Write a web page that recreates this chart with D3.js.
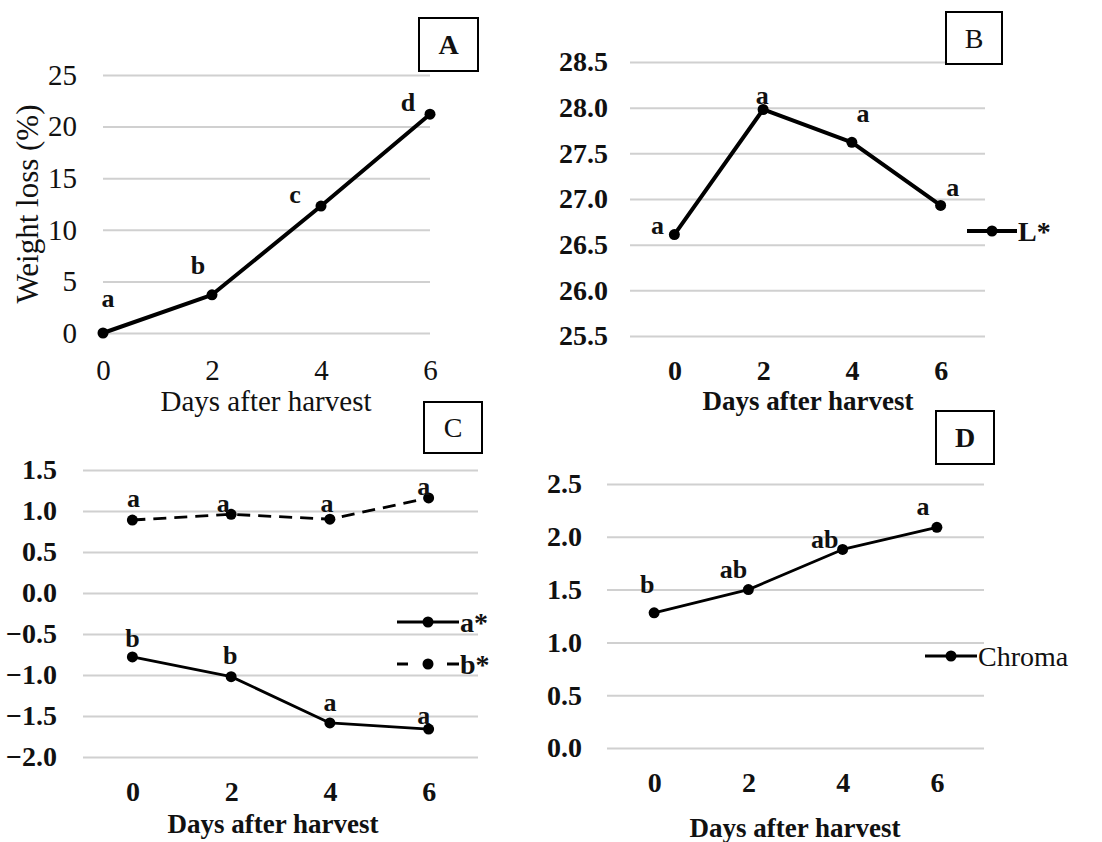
<!DOCTYPE html>
<html><head><meta charset="utf-8">
<script src="https://cdn.jsdelivr.net/npm/d3@7"></script>
<style>body{margin:0;background:#fff}svg{display:block}text{font-family:"Liberation Serif","Times New Roman",serif;fill:#111}</style>
</head><body><svg id="c" width="1102" height="842"></svg>
<script>
const days = ["0","2","4","6"];
const weightLoss = [0, 3.7, 12.3, 21.2];
const weightLetters = ["a","b","c","d"];
const lStar = [26.61, 27.98, 27.62, 26.93];
const lLetters = ["a","a","a","a"];
const aStar = [-0.78, -1.02, -1.585, -1.66];
const aLetters = ["b","b","a","a"];
const bStar = [0.89, 0.96, 0.90, 1.16];
const bLetters = ["a","a","a","a"];
const chroma = [1.28, 1.50, 1.88, 2.09];
const chromaLetters = ["b","ab","ab","a"];
const ticksA = [0,5,10,15,20,25];
const ticksB = [25.5,26.0,26.5,27.0,27.5,28.0,28.5];
const ticksC = [-2.0,-1.5,-1.0,-0.5,0.0,0.5,1.0,1.5];
const ticksD = [0.0,0.5,1.0,1.5,2.0,2.5];

const svg = d3.select("#c");
const FF = '"Liberation Serif","Times New Roman",serif';

function panel(o){
  const g = svg.append("g");
  const x = d3.scalePoint().domain(days).range([o.x0, o.x1]).padding(o.pad);
  const y = d3.scaleLinear().domain(o.dom).range([o.yb, o.yt]);
  const yAxis = d3.axisLeft(y).tickValues(o.ticks).tickSize(-(o.x1 - o.x0)).tickPadding(o.tickPad)
      .tickFormat(o.fmt);
  const ga = g.append("g").attr("transform", `translate(${o.x0},0)`).call(yAxis);
  ga.attr("font-family", FF);
  ga.select(".domain").remove();
  ga.selectAll("line").attr("stroke", "#d0d0d0").attr("stroke-width", 2);
  ga.selectAll("text").style("font-size", o.fs + "px").style("font-weight", o.fw)
    .style("font-family", FF).attr("fill", "#111");
  const xAxis = d3.axisBottom(x).tickSize(0).tickPadding(0);
  const gx = g.append("g").attr("transform", `translate(0,${o.xTickY})`).call(xAxis);
  gx.attr("font-family", FF);
  gx.select(".domain").remove();
  gx.selectAll("text").style("font-size", o.fs + "px").style("font-weight", o.fw)
    .style("font-family", FF).attr("fill", "#111").attr("dy", "0.35em");
  g.append("text").attr("x", o.titleX).attr("y", o.titleY).attr("text-anchor", "middle")
    .attr("dy", "0.35em").style("font-size", o.tfs + "px").style("font-weight", o.fw).text("Days after harvest");
  o.series.forEach(s => {
    const pts = s.values.map((v, i) => [x(days[i]), y(v)]);
    g.append("path").attr("d", d3.line()(pts)).attr("fill", "none").attr("stroke", "#000")
      .attr("stroke-width", o.lw).attr("stroke-dasharray", s.dash || null).attr("stroke-linejoin", "round");
    g.selectAll(null).data(pts).enter().append("circle").attr("cx", d => d[0]).attr("cy", d => d[1])
      .attr("r", o.r).attr("fill", "#000");
    s.letters.forEach((t, i) => {
      g.append("text").attr("x", x(days[i]) + s.lab[i][0]).attr("y", y(s.values[i]) + s.lab[i][1])
        .attr("text-anchor", "middle").attr("dy", "0.35em").style("font-size", "26px")
        .style("font-weight", "bold").text(t);
    });
    if (s.leg) {
      const L = s.leg;
      g.append("line").attr("x1", L[0]).attr("x2", L[1]).attr("y1", L[2]).attr("y2", L[2])
        .attr("stroke", "#000").attr("stroke-width", o.lw).attr("stroke-dasharray", s.legDash || null);
      g.append("circle").attr("cx", (L[0] + L[1]) / 2).attr("cy", L[2]).attr("r", o.r).attr("fill", "#000");
      g.append("text").attr("x", L[1] + 1).attr("y", L[2]).attr("dy", "0.35em")
        .style("font-size", o.legFs + "px").style("font-weight", o.legFw).text(s.name);
    }
  });
  const b = o.box;
  g.append("rect").attr("x", b[0]).attr("y", b[1]).attr("width", b[2] - b[0]).attr("height", b[3] - b[1])
    .attr("fill", "#fff").attr("stroke", "#000").attr("stroke-width", 2);
  g.append("text").attr("x", (b[0] + b[2]) / 2).attr("y", (b[1] + b[3]) / 2).attr("dy", "0.35em")
    .attr("text-anchor", "middle").style("font-size", "28px").style("font-weight", o.boxFw).text(o.letter);
  return {g, x, y};
}

const A = panel({x0:103, x1:430, pad:0, dom:[0,25], yb:333, yt:75, ticks:ticksA, fmt:d3.format("d"),
  tickPad:26, fs:29, tfs:29, fw:"normal", xTickY:370, titleX:266, titleY:401, lw:4, r:5.5,
  series:[{values:weightLoss, letters:weightLetters, name:"", lab:[[5,-35],[-14,-30],[-26,-12],[-22,-12]]}],
  box:[419,18,478,71], letter:"A", boxFw:"bold"});
A.g.append("text").attr("transform","translate(27,204) rotate(-90)").attr("text-anchor","middle")
  .attr("dy","0.35em").style("font-size","31px").text("Weight loss (%)");

panel({x0:630, x1:985, pad:0.5, dom:[25.5,28.5], yb:336, yt:62, ticks:ticksB, fmt:d3.format(".1f"),
  tickPad:22, fs:28, tfs:27, fw:"bold", xTickY:370, titleX:808, titleY:401, lw:4, r:5.5,
  series:[{values:lStar, letters:lLetters, name:"L*", lab:[[-17,-10],[-1,-15],[11,-29],[12,-18]],
    leg:[967,1017,231]}],
  legFs:28, legFw:"bold", box:[946,12,1002,64], letter:"B", boxFw:"normal"});

panel({x0:83, x1:478, pad:0.5, dom:[-2,1.5], yb:757, yt:470, ticks:ticksC, fmt:d3.format(".1f"),
  tickPad:26, fs:28, tfs:27, fw:"bold", xTickY:791, titleX:273, titleY:824, lw:2.8, r:5.5,
  series:[
    {values:aStar, letters:aLetters, name:"a*", lab:[[0,-19],[-1,-22],[0,-21],[-5,-14]], leg:[397,459,622]},
    {values:bStar, letters:bLetters, name:"b*", dash:"13,8", lab:[[1,-22],[-8,-11],[-3,-16],[-5,-12]],
      leg:[397,459,664], legDash:"11,39,12"}],
  legFs:28, legFw:"bold", box:[424,402,482,453], letter:"C", boxFw:"normal"});

panel({x0:607, x1:984, pad:0.5, dom:[0,2.5], yb:748, yt:484, ticks:ticksD, fmt:d3.format(".1f"),
  tickPad:25, fs:28, tfs:27, fw:"bold", xTickY:782, titleX:795, titleY:828, lw:2.8, r:5.5,
  series:[{values:chroma, letters:chromaLetters, name:"Chroma", lab:[[-7,-29],[-15,-21],[-18,-11],[-14,-21]],
    leg:[925,977,656]}],
  legFs:28, legFw:"normal", box:[936,411,994,464], letter:"D", boxFw:"bold"});
</script></body></html>
